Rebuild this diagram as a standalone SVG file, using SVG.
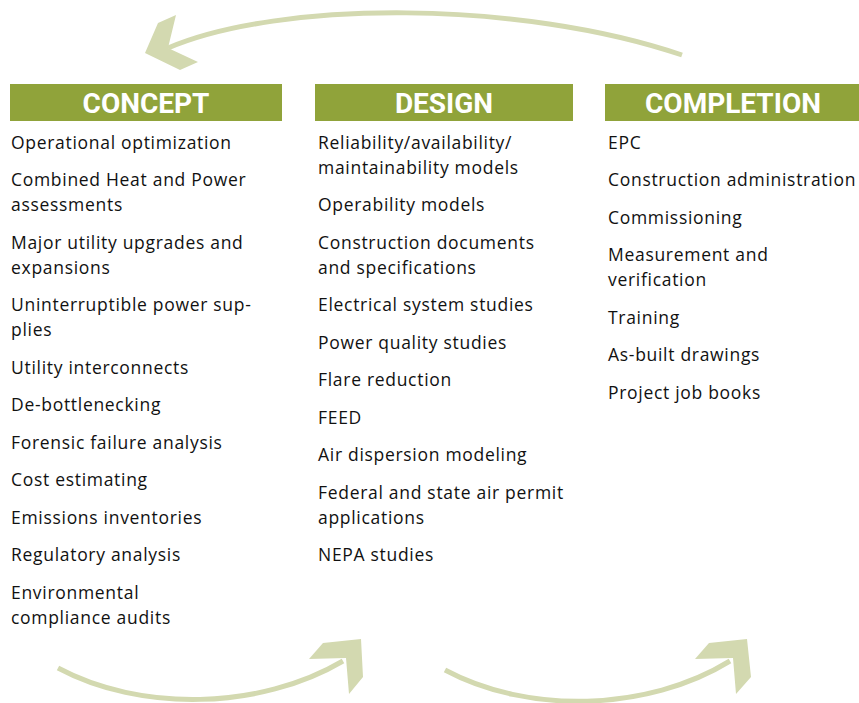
<svg xmlns="http://www.w3.org/2000/svg" width="859" height="703" viewBox="0 0 859 703">
<style>
.hdr{fill:#90a33a}
.ht{font-family:Roboto,"Liberation Sans",sans-serif;font-weight:bold;font-size:28px;fill:#fff;text-anchor:middle}
.t{font-family:"Open Sans","Liberation Sans",sans-serif;font-size:17.5px;fill:#111;letter-spacing:0.7px}
.cl{fill:none;stroke:#d3d9b0;stroke-width:5}
.ah{fill:#d3d9b0}
</style>
<rect width="859" height="703" fill="#fff"/>
<g id="connectors">
<path class="cl" d="M682,55 C520,0 280,0 168,48"/>
<polygon class="ah" points="176,15 158,23 145,53 180,70 198,62 168,48"/>
<path class="cl" d="M58,668 C140,712 260,710 343,661"/>
<polygon class="ah" points="309,659 323,643 361,639 363,677 349,694 346,658"/>
<path class="cl" d="M445,670 C527,714 647,712 730,661"/>
<polygon class="ah" points="695,659 709,643 747,639 751,677 736,694 733,658"/>
</g>
<g id="concept">
<rect class="hdr" x="10" y="84" width="272" height="37"/>
<text class="ht" x="146" y="113">CONCEPT</text>
<text class="t" x="11" y="148.5">Operational optimization</text>
<text class="t" x="11" y="186">Combined Heat and Power</text>
<text class="t" x="11" y="211">assessments</text>
<text class="t" x="11" y="248.5">Major utility upgrades and</text>
<text class="t" x="11" y="273.5">expansions</text>
<text class="t" x="11" y="311">Uninterruptible power sup-</text>
<text class="t" x="11" y="336">plies</text>
<text class="t" x="11" y="373.5">Utility interconnects</text>
<text class="t" x="11" y="411">De-bottlenecking</text>
<text class="t" x="11" y="448.5">Forensic failure analysis</text>
<text class="t" x="11" y="486">Cost estimating</text>
<text class="t" x="11" y="523.5">Emissions inventories</text>
<text class="t" x="11" y="561">Regulatory analysis</text>
<text class="t" x="11" y="598.5">Environmental</text>
<text class="t" x="11" y="623.5">compliance audits</text>
</g>
<g id="design">
<rect class="hdr" x="315" y="84" width="258" height="37"/>
<text class="ht" x="444" y="113">DESIGN</text>
<text class="t" x="318" y="148.5">Reliability/availability/</text>
<text class="t" x="318" y="173.5">maintainability models</text>
<text class="t" x="318" y="211">Operability models</text>
<text class="t" x="318" y="248.5">Construction documents</text>
<text class="t" x="318" y="273.5">and specifications</text>
<text class="t" x="318" y="311">Electrical system studies</text>
<text class="t" x="318" y="348.5">Power quality studies</text>
<text class="t" x="318" y="386">Flare reduction</text>
<text class="t" x="318" y="423.5">FEED</text>
<text class="t" x="318" y="461">Air dispersion modeling</text>
<text class="t" x="318" y="498.5">Federal and state air permit</text>
<text class="t" x="318" y="523.5">applications</text>
<text class="t" x="318" y="561">NEPA studies</text>
</g>
<g id="completion">
<rect class="hdr" x="605" y="84" width="254" height="37"/>
<text class="ht" x="733" y="113">COMPLETION</text>
<text class="t" x="608" y="148.5">EPC</text>
<text class="t" x="608" y="186">Construction administration</text>
<text class="t" x="608" y="223.5">Commissioning</text>
<text class="t" x="608" y="261">Measurement and</text>
<text class="t" x="608" y="286">verification</text>
<text class="t" x="608" y="323.5">Training</text>
<text class="t" x="608" y="361">As-built drawings</text>
<text class="t" x="608" y="398.5">Project job books</text>
</g>
</svg>
